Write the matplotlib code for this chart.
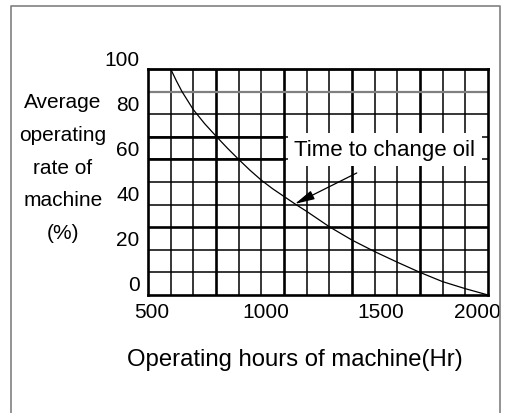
import matplotlib.pyplot as plt
from matplotlib.lines import Line2D
from matplotlib.transforms import ScaledTranslation

plt.rcParams['font.family'] = ['Liberation Sans', 'DejaVu Sans']

# curve
hours = [600, 625, 650, 700, 750, 800, 850, 900, 950, 1000, 1050, 1100, 1150,
         1200, 1300, 1400, 1500, 1600, 1700, 1800, 1900, 2000]
rate = [100, 94.8, 90, 82, 75.8, 70.3, 65, 60, 55.2, 50.8, 47, 43.6, 40.2,
        37, 30.2, 24.3, 19.2, 14.5, 10, 5.9, 2.8, 0]

x_ticks = [500, 1000, 1500, 2000]
y_ticks = [0, 20, 40, 60, 80, 100]
x_grid = list(range(500, 2001, 100))
y_grid = list(range(0, 101, 10))

note_text = "Time to change oil"
note_pos = (1545, 64.5)
arrow_head = (1148, 40.3)
arrow_tail = (1421, 54)

fig = plt.figure(figsize=(5.05, 4.14), dpi=100)
ax = fig.add_axes([148/505, 1-296/414, 340/505, 226/414])
ax.set_xlim(500, 2000)
ax.set_ylim(0, 100)

# grid, drawn by hand because line weights differ
thick_x = [800, 1100, 1400, 1700]
for gx in x_grid[1:-1]:
    ax.axvline(gx, color='black', lw=1.9 if gx in thick_x else 1.1, zorder=1)
for gy in y_grid[1:-1]:
    if gy == 90:
        ax.axhline(gy, color='#808080', lw=1.6, zorder=1)
    elif gy == 30:
        ax.axhline(gy, color='black', lw=1.9, zorder=1)
    elif gy in (60, 70):
        ax.axhline(gy, color='black', lw=1.1, zorder=1)
        ax.plot([500, 1100], [gy, gy], color='black', lw=1.9, zorder=1)
    else:
        ax.axhline(gy, color='black', lw=1.1, zorder=1)

for s in ax.spines.values():
    s.set_linewidth(1.9)
ax.spines['top'].set_linewidth(2.0)

ax.plot(hours, rate, color='black', lw=0.9, zorder=3)

ax.text(note_pos[0], note_pos[1], note_text, fontsize=16, ha='center', va='center',
        zorder=4, bbox=dict(boxstyle='square,pad=0.28', fc='white', ec='none'))
ax.annotate('', xy=arrow_head, xytext=arrow_tail, zorder=5,
            arrowprops=dict(arrowstyle='-|>,head_length=0.6,head_width=0.14',
                            color='black', lw=0.9, mutation_scale=20,
                            shrinkA=0, shrinkB=0))

ax.set_xticks(x_ticks)
ax.set_yticks(y_ticks)
ax.tick_params(length=0, labelsize=15, colors='black')
ax.tick_params(axis='x', pad=5)
ax.tick_params(axis='y', pad=6)

# labels in the drawing sit a little off the grid lines
y_shift = ScaledTranslation(0, 0.12, fig.dpi_scale_trans)
for lab in ax.get_yticklabels():
    lab.set_transform(lab.get_transform() + y_shift)
x_shifts = [0.04, 0.04, 0.06, -0.11]
for lab, dx in zip(ax.get_xticklabels(), x_shifts):
    lab.set_transform(lab.get_transform() + ScaledTranslation(dx, 0, fig.dpi_scale_trans))

fig.text(63/505, 1-168/414, "Average\noperating\nrate of\nmachine\n(%)",
         fontsize=15, ha='center', va='center', linespacing=1.92)
fig.text(295/505, 1-360/414, "Operating hours of machine(Hr)",
         fontsize=17.2, ha='center', va='center')

# outer frame, open at the bottom
frame_x = [11/505, 11/505, 500/505, 500/505]
frame_y = [0, 1-7/414, 1-7/414, 0]
fig.add_artist(Line2D(frame_x, frame_y, color='#808080', lw=1.2))

fig.savefig('out.png', dpi=100)
